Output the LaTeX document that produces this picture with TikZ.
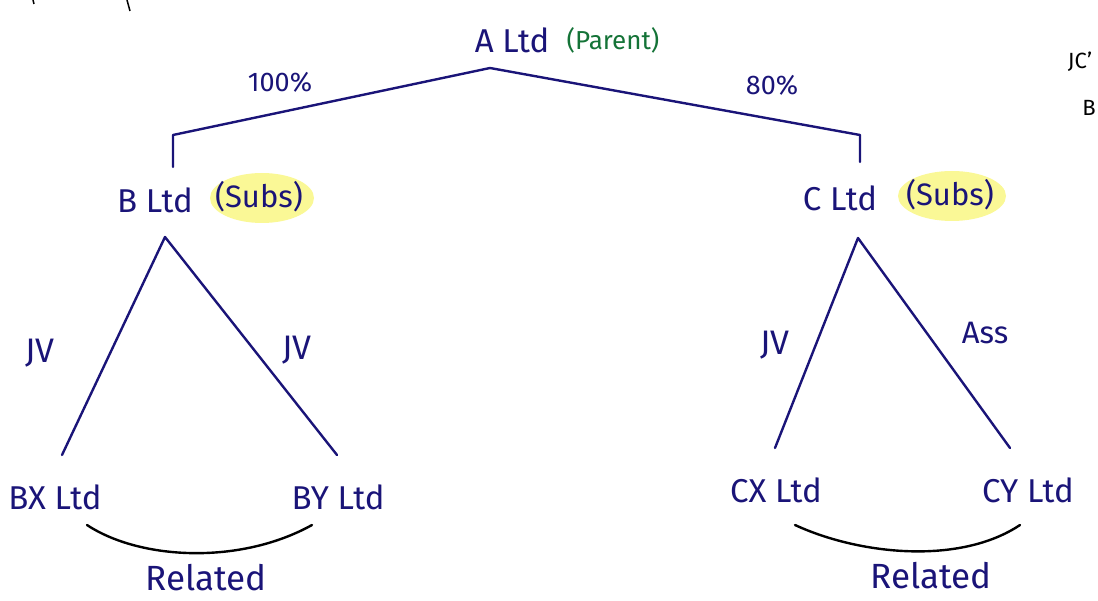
\documentclass[tikz,border=0pt]{standalone}
\usepackage{fontspec}
\setmainfont{Fira Sans}
\definecolor{ink}{RGB}{26,20,120}
\definecolor{grn}{RGB}{20,115,55}
\definecolor{hl}{RGB}{250,248,150}
\usetikzlibrary{shapes.geometric}
\tikzset{
  lbl/.style={text=ink, font=\fontsize{33}{38}\selectfont, inner sep=1pt},
  small/.style={text=ink, font=\fontsize{27}{32}\selectfont, inner sep=1pt},
  subs/.style={text=ink, font=\fontsize{31}{36}\selectfont, inner sep=1pt},
  jv/.style={text=ink, font=\fontsize{34}{38}\selectfont, inner sep=1pt},
  branch/.style={draw=ink, line width=2.4pt, line cap=round, line join=round},
  rel/.style={draw=black, line width=2.4pt, line cap=round},
  hlbox/.style={fill=hl, ellipse, inner sep=0pt},
  stray/.style={text=black, font=\fontsize{22}{26}\selectfont, inner sep=0pt}
}
\begin{document}
\begin{tikzpicture}[x=1pt,y=-1pt]
\useasboundingbox (0,0) rectangle (1098,601);
\clip (0,0) rectangle (1098,601);
% highlights
\node[hlbox, minimum width=104pt, minimum height=50pt] at (262,198) {};
\node[hlbox, minimum width=108pt, minimum height=50pt] at (952,196) {};
% texts
\node[lbl] (A) at (512,40) {A Ltd};
\node[text=grn, font=\fontsize{26}{30}\selectfont] (Ap) at (613,40) {(Parent)};
\node[small] (p100) at (280,82) {100\%};
\node[small] (p80) at (772,85) {80\%};
\node[lbl] (B) at (155,200) {B Ltd};
\node[subs] (Bs) at (259,197) {(Subs)};
\node[lbl] (C) at (840,198) {C Ltd};
\node[subs] (Cs) at (950,195) {(Subs)};
\node[jv] (j1) at (40,353) {JV};
\node[jv] (j2) at (297,350) {JV};
\node[jv] (j3) at (775,345) {JV};
\node[subs] (as) at (985,333) {Ass};
\node[lbl] (BX) at (55,497) {BX Ltd};
\node[lbl] (BY) at (338,497) {BY Ltd};
\node[lbl] (CX) at (776,490) {CX Ltd};
\node[lbl] (CY) at (1028,490) {CY Ltd};
\node[lbl, font=\fontsize{35}{40}\selectfont] (R1) at (206,578) {Related};
\node[lbl, font=\fontsize{35}{40}\selectfont] (R2) at (931,576) {Related};
\node[stray] (m1) at (1080,62) {JC'};
\node[stray] (m2) at (1089,108) {B};
% coordinates
\coordinate (top) at (490,68);
\coordinate (bL) at (173,135);
\coordinate (bR) at (860,135);
\coordinate (Bt) at (173,167);
\coordinate (Ct) at (860,162);
\coordinate (Ba) at (165,237);
\coordinate (Ca) at (858,238);
\coordinate (BXt) at (62,455);
\coordinate (BYt) at (337,455);
\coordinate (CXt) at (775,448);
\coordinate (CYt) at (1010,448);
\coordinate (r1a) at (87,525);
\coordinate (r1b) at (312,525);
\coordinate (r2a) at (795,525);
\coordinate (r2b) at (1020,525);
% branches
\draw[branch] (Bt) -- (bL) -- (top) -- (bR) -- (Ct);
\draw[branch] (BXt) -- (Ba) -- (BYt);
\draw[branch] (CXt) -- (Ca) -- (CYt);
% related arcs
\draw[rel] (r1a) .. controls (140,560) and (240,565) .. (r1b);
\draw[rel] (r2a) .. controls (860,555) and (960,565) .. (r2b);
% stray marks
\draw[line width=1.5pt] (33,0) -- (34,4);
\draw[line width=1.5pt] (127,0) -- (130,11);
\end{tikzpicture}
\end{document}
